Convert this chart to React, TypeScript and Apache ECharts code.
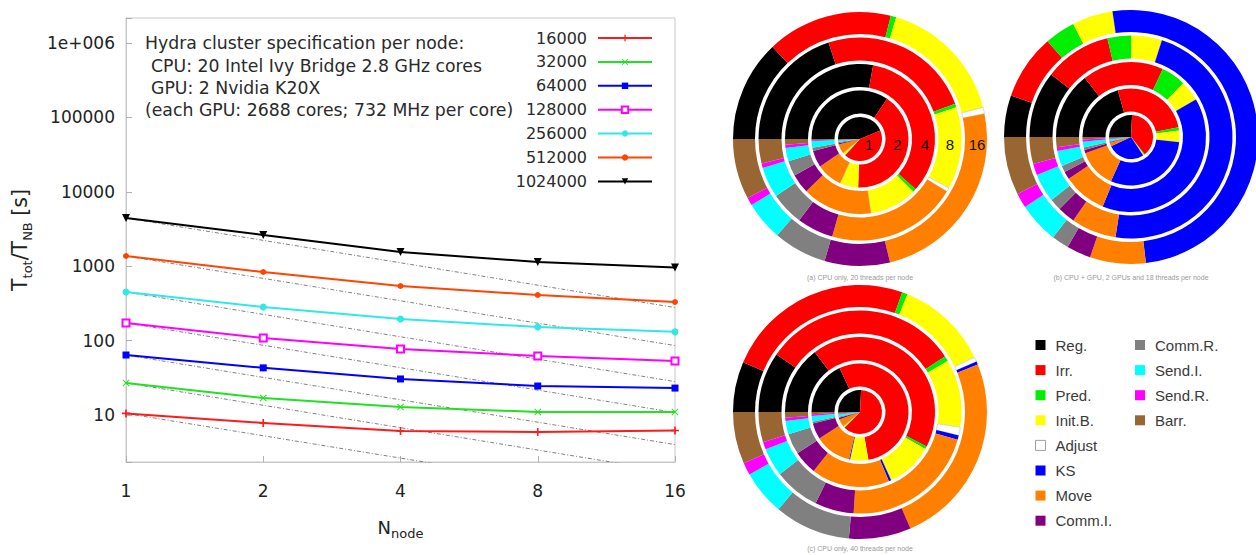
import React, { useEffect, useRef } from 'react';
import * as echarts from 'echarts';

// ---- Strong scaling on the Hydra cluster: total time vs. number of nodes ----
const nodeCounts = [1, 2, 4, 8, 16];
const particleCounts = ['16000', '32000', '64000', '128000', '256000', '512000', '1024000'];

const time16000 = [10.5, 7.8, 6.1, 5.9, 6.2];
const time32000 = [27, 16.9, 12.8, 11.0, 11.0];
const time64000 = [64, 43, 30.5, 24.5, 23];
const time128000 = [173, 108, 77, 62, 53];
const time256000 = [450, 283, 195, 152, 131];
const time512000 = [1371, 836, 542, 410, 330];
const time1024000 = [4446, 2625, 1550, 1138, 960];

// ideal-scaling guide lines: value at 1 node and at 16 nodes
const idealAt1 = [10.5, 27, 64, 173, 450, 1371, 4446];
const idealAt16 = [0.66, 1.69, 4.0, 10.8, 28.1, 85.7, 278];

const yTickLabels: Record<string, string> = {
  '10': '10',
  '100': '100',
  '1000': '1000',
  '10000': '10000',
  '100000': '100000',
  '1000000': '1e+006',
};
const xTickLabels = ['1', '2', '4', '8', '16'];

const specLines = [
  'Hydra cluster specification per node:',
  'CPU: 20 Intel Ivy Bridge 2.8 GHz cores',
  'GPU: 2 Nvidia K20X',
  '(each GPU: 2688 cores; 732 MHz per core)',
];

// ---- Time share of each phase (percent), one ring per node count 1,2,4,8,16 ----
const phases = ['Reg.', 'Irr.', 'Pred.', 'Init.B.', 'Adjust', 'KS', 'Move', 'Comm.I.', 'Comm.R.', 'Send.I.', 'Send.R.', 'Barr.'];
const phaseColors = ['#000000', '#ff0000', '#00ee00', '#ffff00', '#ffffff', '#0000ff', '#ff8000', '#800080', '#808080', '#00ffff', '#ff00ff', '#996633'];

const shareA1 = [43.6, 43.1, 0.3, 1.9, 0, 0, 6.9, 1.1, 0.8, 1.1, 0.3, 0.8];
const shareA2 = [34.4, 41.1, 0.1, 6.1, 0, 0, 8.6, 5.6, 1.1, 2.2, 0.3, 0.4];
const shareA4 = [27.8, 33.9, 0.7, 10.3, 0, 0, 15.0, 4.2, 3.3, 2.9, 0.7, 1.2];
const shareA8 = [20.0, 24.4, 0.6, 13.1, 0.6, 0, 20.8, 5.8, 5.3, 4.9, 0.7, 3.9];
const shareA16 = [12.9, 16.0, 0.7, 16.4, 0.8, 0, 24.4, 8.3, 6.8, 5.0, 1.0, 7.7];

const shareB1 = [25.8, 38.6, 0.6, 0.8, 0, 27.4, 2.6, 0.6, 0.6, 1.4, 0.6, 1.1];
const shareB2 = [20.6, 26.1, 1.1, 3.9, 0, 30.0, 12.8, 1.1, 0.8, 1.9, 0.8, 0.8];
const shareB4 = [14.4, 17.5, 5.3, 4.4, 0, 39.4, 9.4, 1.7, 1.4, 3.3, 0.8, 2.2];
const shareB8 = [10.6, 10.7, 3.8, 4.9, 0, 47.6, 7.2, 2.8, 1.9, 4.6, 1.8, 4.3];
const shareB16 = [5.3, 8.3, 3.9, 5.2, 0, 50.5, 7.1, 3.1, 2.2, 5.2, 1.9, 7.4];

const shareC1 = [25.8, 61.7, 0.3, 1.1, 0, 0, 5.6, 1.4, 0.8, 1.7, 0.6, 1.1];
const shareC2 = [18.1, 54.2, 0, 6.1, 0, 0.3, 12.2, 5.4, 0.6, 1.9, 0.6, 0.7];
const shareC4 = [14.7, 42.9, 0.6, 10.0, 0, 0.5, 16.9, 5.1, 4.5, 2.9, 0.7, 1.2];
const shareC8 = [9.6, 31.2, 0.8, 10.8, 1.3, 0.7, 21.6, 6.2, 7.3, 4.5, 1.2, 4.8];
const shareC16 = [6.4, 24.0, 0.7, 11.8, 0.6, 0.4, 24.6, 7.9, 9.7, 5.7, 1.6, 6.6];

const ringLabels = ['1', '2', '4', '8', '16'];
const captions = [
  '(a) CPU only, 20 threads per node',
  '(b) CPU + GPU, 2 GPUs and 18 threads per node',
  '(c) CPU only, 40 threads per node',
];

const LEFT_FONT = 'DejaVu Sans';
const PIE_FONT = 'Liberation Sans';

const App: React.FC = () => {
  const ref = useRef<HTMLDivElement>(null);

  useEffect(() => {
    if (!ref.current) return;
    const chart = echarts.init(ref.current, null, { renderer: 'svg' });

    const seriesValues = [time16000, time32000, time64000, time128000, time256000, time512000, time1024000];
    const lineColors = ['#ff1a1a', '#22e022', '#0000ff', '#ff00ff', '#30e8e8', '#ff4500', '#000000'];
    const symbols = [
      'path://M4,0H6V10H4Z M0,4H10V6H0Z',
      'path://M1,0L5,4L9,0L10,1L6,5L10,9L9,10L5,6L1,10L0,9L4,5L0,1Z',
      'rect',
      'emptyRect',
      'circle',
      'circle',
      'triangle',
    ];
    const symbolSizes = [8, 7, 7, 7, 7, 6, 8];

    const idealSeries = particleCounts.map((p, i) => ({
      name: 'ideal ' + p,
      type: 'line',
      xAxisIndex: 0,
      yAxisIndex: 0,
      data: [
        [nodeCounts[0], idealAt1[i]],
        [nodeCounts[nodeCounts.length - 1], idealAt16[i]],
      ],
      symbol: 'none',
      silent: true,
      z: 1,
      lineStyle: { color: '#808080', width: 1, type: [4, 2, 1, 2] },
    }));

    const timeSeries = particleCounts.map((p, i) => ({
      name: p,
      type: 'line',
      xAxisIndex: 0,
      yAxisIndex: 0,
      data: nodeCounts.map((n, k) => [n, seriesValues[i][k]]),
      symbol: symbols[i],
      symbolSize: symbolSizes[i],
      symbolRotate: i === 6 ? 180 : 0,
      z: 3,
      color: lineColors[i],
      itemStyle: { color: lineColors[i], borderColor: lineColors[i], borderWidth: i === 3 ? 1.5 : 0 },
      lineStyle: { color: lineColors[i], width: 2 },
    }));

    const pieCenters = [
      [860, 139],
      [1131, 137],
      [860, 412],
    ];
    const ringRadii = [
      [0, 22],
      [25.5, 48.5],
      [52, 75],
      [78.5, 101.5],
      [105, 127],
    ];
    const pieShares = [
      [shareA1, shareA2, shareA4, shareA8, shareA16],
      [shareB1, shareB2, shareB4, shareB8, shareB16],
      [shareC1, shareC2, shareC4, shareC8, shareC16],
    ];

    const itemStyleFor = (i: number) =>
      phases[i] === 'Adjust'
        ? { color: phaseColors[i], borderColor: '#c0c0c0', borderWidth: 0.6 }
        : { color: phaseColors[i], borderWidth: 0 };

    const pieSeries: any[] = [];
    pieShares.forEach((rings, c) => {
      rings.forEach((shares, r) => {
        pieSeries.push({
          name: 'breakdown ' + c + '-' + ringLabels[r],
          type: 'pie',
          center: pieCenters[c],
          radius: ringRadii[r],
          startAngle: 180,
          clockwise: true,
          minAngle: 0,
          silent: true,
          avoidLabelOverlap: false,
          label: { show: false },
          labelLine: { show: false },
          emphasis: { disabled: true },
          data: phases.map((name, i) => ({ name, value: shares[i], itemStyle: itemStyleFor(i) })),
        });
      });
    });

    const pieLegendItem = (name: string) => {
      const i = phases.indexOf(name);
      return {
        name,
        itemStyle:
          name === 'Adjust'
            ? { color: '#ffffff', borderColor: '#a0a0a0', borderWidth: 1 }
            : { color: phaseColors[i], borderWidth: 0 },
      };
    };

    const pieLegendBase = {
      orient: 'vertical',
      icon: 'rect',
      padding: 0,
      itemWidth: 10,
      itemHeight: 10,
      itemGap: 10.1,
      selectedMode: false,
      top: 337.5,
      textStyle: { fontFamily: PIE_FONT, fontSize: 15, lineHeight: 15, color: '#3a3a3a', padding: [0, 0, 0, 5] },
    };

    const graphics: any[] = [];
    const specX = [145, 151, 151, 145];
    const specY = [43, 66, 88, 110];
    specLines.forEach((t, i) => {
      graphics.push({
        type: 'text',
        x: specX[i],
        y: specY[i],
        silent: true,
        style: { text: t, fontFamily: LEFT_FONT, fontSize: 17.3, fill: '#2a2a2a', textVerticalAlign: 'middle' },
      });
    });
    const labelRadius = [9, 37.5, 65, 90, 117];
    ringLabels.forEach((t, r) => {
      graphics.push({
        type: 'text',
        x: pieCenters[0][0] + labelRadius[r],
        y: pieCenters[0][1] + 5,
        silent: true,
        z: 10,
        style: { text: t, fontFamily: PIE_FONT, fontSize: 15, fill: '#111', textAlign: 'center', textVerticalAlign: 'middle' },
      });
    });
    const captionY = [277, 277, 548];
    captions.forEach((t, c) => {
      graphics.push({
        type: 'text',
        x: pieCenters[c][0],
        y: captionY[c],
        silent: true,
        style: { text: t, fontFamily: PIE_FONT, fontSize: 7, fill: '#9a9a9a', textAlign: 'center', textVerticalAlign: 'middle' },
      });
    });

    const option: any = {
      animation: false,
      backgroundColor: '#ffffff',
      grid: [
        { left: 126, top: 18, width: 549, height: 444, show: true, borderColor: '#c8c8c8', borderWidth: 1, backgroundColor: 'transparent' },
      ],
      xAxis: [
        {
          type: 'log',
          logBase: 2,
          min: 1,
          max: 16,
          gridIndex: 0,
          axisLine: { show: true, lineStyle: { color: '#c8c8c8' } },
          axisTick: { show: true, inside: true, length: 6, lineStyle: { color: '#b0b0b0' } },
          splitLine: { show: false },
          axisLabel: {
            margin: 20,
            fontFamily: LEFT_FONT,
            fontSize: 17,
            color: '#222',
            formatter: (v: number) => {
              const k = nodeCounts.indexOf(Math.round(v));
              return k >= 0 ? xTickLabels[k] : '';
            },
          },
          name: '{n|N}{s|node}',
          nameLocation: 'middle',
          nameGap: 52,
          nameTextStyle: {
            rich: {
              n: { fontFamily: LEFT_FONT, fontSize: 18, color: '#222', lineHeight: 26, verticalAlign: 'middle' },
              s: { fontFamily: LEFT_FONT, fontSize: 13, color: '#222', lineHeight: 26, verticalAlign: 'bottom' },
            },
          },
        },
      ],
      yAxis: [
        {
          type: 'log',
          logBase: 10,
          min: 2.334,
          max: 2.168e6,
          gridIndex: 0,
          axisLine: { show: true, lineStyle: { color: '#c8c8c8' } },
          axisTick: { show: true, inside: true, length: 6, lineStyle: { color: '#b0b0b0' } },
          splitLine: { show: false },
          axisLabel: {
            margin: 11,
            fontFamily: LEFT_FONT,
            fontSize: 17,
            color: '#222',
            formatter: (v: number) => {
              const key = String(Math.round(v));
              const lg = Math.log10(v);
              return Math.abs(lg - Math.round(lg)) < 1e-6 && yTickLabels[key] ? yTickLabels[key] : '';
            },
          },
          name: '{t|T}{s|tot}{t|/T}{s|NB}{t| [s]}',
          nameLocation: 'middle',
          nameRotate: 90,
          nameGap: 92,
          nameTextStyle: {
            rich: {
              t: { fontFamily: LEFT_FONT, fontSize: 20.5, color: '#222', lineHeight: 28, verticalAlign: 'middle' },
              s: { fontFamily: LEFT_FONT, fontSize: 13, color: '#222', lineHeight: 28, verticalAlign: 'bottom' },
            },
          },
        },
      ],
      legend: [
        {
          data: particleCounts,
          orient: 'vertical',
          align: 'right',
          padding: 0,
          right: 603,
          top: 30,
          itemWidth: 54,
          itemHeight: 8,
          itemGap: 7.9,
          selectedMode: false,
          textStyle: { fontFamily: LEFT_FONT, fontSize: 16, lineHeight: 16, color: '#2a2a2a', padding: [0, 6, 0, 0] },
        },
        { ...pieLegendBase, left: 1035, data: phases.slice(0, 8).map(pieLegendItem) },
        { ...pieLegendBase, left: 1135, data: phases.slice(8).map(pieLegendItem) },
      ],
      series: [...idealSeries, ...timeSeries, ...pieSeries],
      graphic: graphics,
    };

    chart.setOption(option);
    return () => chart.dispose();
  }, []);

  return (
    <div
      ref={ref}
      style={{ position: 'absolute', left: 0, top: 0, width: 1256, height: 555, background: '#ffffff' }}
    />
  );
};

export default App;
